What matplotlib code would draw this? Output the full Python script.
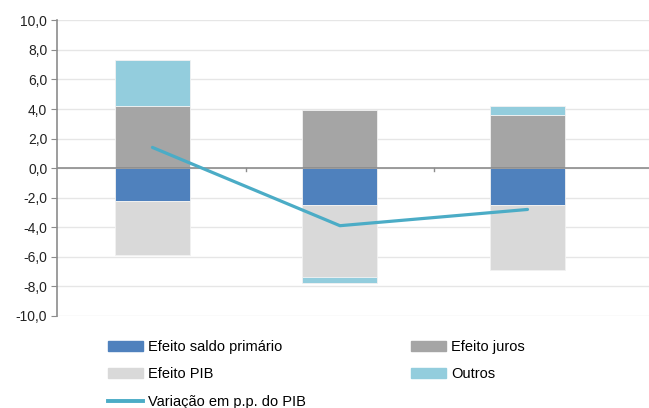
import matplotlib.pyplot as plt
import numpy as np
from matplotlib.patches import Patch
from matplotlib.lines import Line2D

plt.rcParams['font.family'] = ['Liberation Sans', 'DejaVu Sans']

# values (p.p. do PIB)
categories = ['A', 'B', 'C']
saldo_primario = [-2.2, -2.5, -2.5]
juros = [4.2, 3.9, 3.6]
pib = [-3.7, -4.9, -4.4]
outros = [3.1, -0.4, 0.6]
variacao = [1.4, -3.9, -2.8]
yticks = np.arange(-10, 10.1, 2)

series = [
    ('Efeito saldo primário', saldo_primario, '#4F81BD'),
    ('Efeito juros', juros, '#A5A5A5'),
    ('Efeito PIB', pib, '#D9D9D9'),
    ('Outros', outros, '#93CDDD'),
]
line_color = '#4BACC6'

fig = plt.figure(figsize=(6.49, 4.08), dpi=100)
ax = fig.add_axes([0.0878, 0.226, 0.9122, 0.724])

x = np.arange(len(categories))
pos_bottom = np.zeros(len(x))
neg_bottom = np.zeros(len(x))
for name, vals, col in series:
    vals = np.array(vals, dtype=float)
    bottom = np.where(vals >= 0, pos_bottom, neg_bottom)
    ax.bar(x, vals, 0.4, bottom=bottom, color=col, edgecolor='#F2F2F2',
           linewidth=0.6, zorder=2)
    pos_bottom += np.where(vals >= 0, vals, 0)
    neg_bottom += np.where(vals < 0, vals, 0)

ax.plot(x, variacao, color=line_color, lw=2.3, solid_capstyle='round', zorder=4)

ax.set_ylim(-10, 10)
ax.set_xlim(-0.509, 2.648)
ax.set_yticks(yticks)
ax.set_yticklabels([f'{v:.1f}'.replace('.', ',') for v in yticks], fontsize=10,
                   color='#222222')
ax.yaxis.grid(True, color='#E6E6E6', lw=1.0, zorder=0)
ax.set_axisbelow(True)
ax.axhline(0, color='#8C8C8C', lw=1.2, zorder=3)
for xv in [0.5, 1.5]:
    ax.plot([xv, xv], [0, -0.22], color='#8C8C8C', lw=1.0, zorder=3)
ax.set_xticks([])
for s in ['top', 'right', 'bottom']:
    ax.spines[s].set_visible(False)
ax.spines['left'].set_color('#8C8C8C')
ax.spines['left'].set_linewidth(1.2)
ax.tick_params(axis='y', length=4, color='#8C8C8C', pad=3)

handles = [
    Patch(color=series[0][2], label=series[0][0]),
    Patch(color=series[2][2], label=series[2][0]),
    Line2D([], [], color=line_color, lw=2.8, label='Variação em p.p. do PIB'),
    Patch(color=series[1][2], label=series[1][0]),
    Patch(color=series[3][2], label=series[3][0]),
]
fig.legend(handles=handles, ncol=2, loc='upper left', bbox_to_anchor=(0.1664, 0.167),
           frameon=False, fontsize=10.5, handlelength=2.4, handletextpad=0.34,
           columnspacing=7.2, labelspacing=0.92, borderaxespad=0, borderpad=0)

fig.savefig('out.png', dpi=100)
